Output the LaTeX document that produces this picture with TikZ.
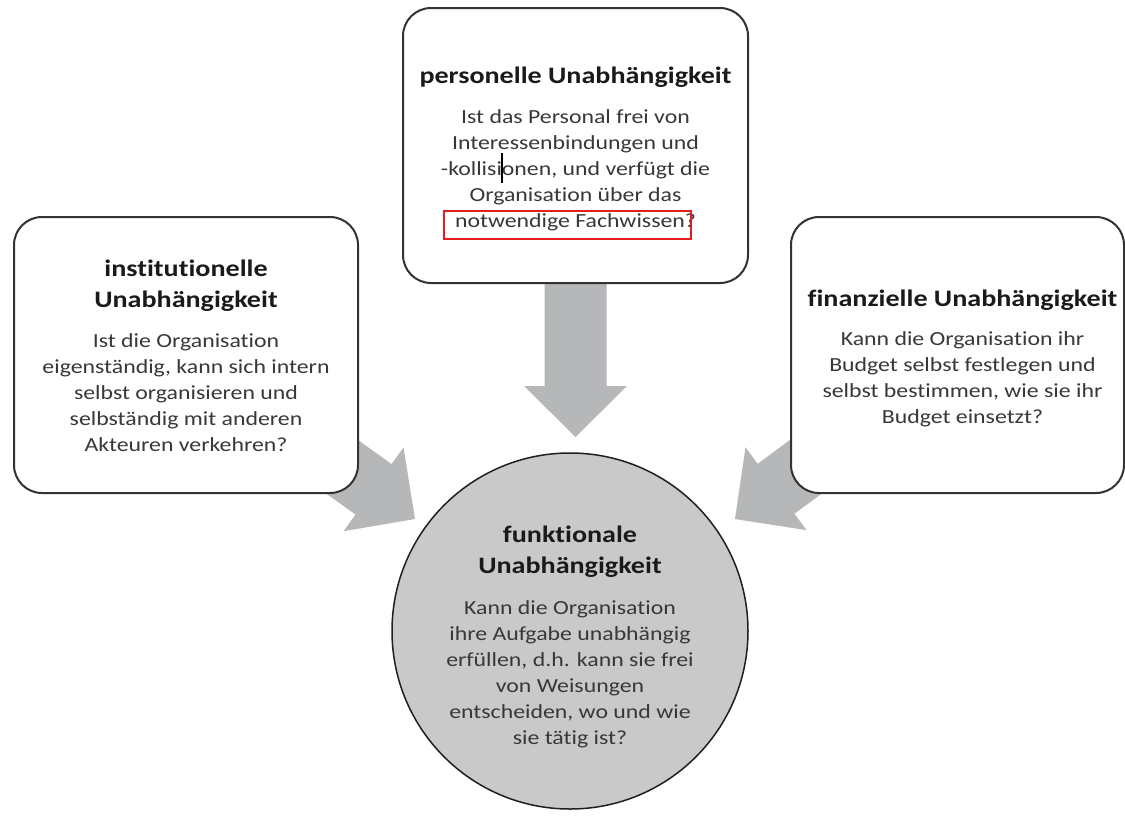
\documentclass[tikz,border=0pt]{standalone}
\usepackage{fontspec}
\setmainfont{Carlito}[FakeStretch=1.19,Ligatures=NoCommon,RawFeature=-liga]
\usetikzlibrary{calc,backgrounds}
\definecolor{boxline}{HTML}{333333}
\definecolor{arrowgray}{HTML}{B6B7B9}
\definecolor{circfill}{HTML}{C9C9C9}
\definecolor{titlecol}{HTML}{1A1A1A}
\definecolor{bodycol}{HTML}{383838}
\definecolor{markred}{HTML}{E41E1E}
\newcommand\ttl[1]{{\color{titlecol}\bfseries\fontsize{23.6}{26}\selectfont #1}}
\newcommand\blockarrow[2]{%
  \coordinate (bm) at ($(#2)!51pt!(#1)$);
  \fill[arrowgray] ($(#1)!31pt!90:(#2)$) -- ($(bm)!31pt!-90:(#1)$) -- ($(bm)!51.5pt!-90:(#1)$) -- (#2)
    -- ($(bm)!51.5pt!90:(#1)$) -- ($(bm)!31pt!90:(#1)$) -- ($(#1)!31pt!-90:(#2)$) -- cycle;}
\tikzset{
  infobox/.style={draw=boxline, line width=2pt, rounded corners=28pt, fill=white, inner sep=0pt},
  centrecircle/.style={circle, draw=black!88, line width=1.5pt, fill=circfill,
    minimum size=356pt, inner sep=0pt},
  boxtext/.style={align=center, inner sep=0pt, font=\fontsize{20}{26}\selectfont, text=bodycol},
}
\begin{document}
\begin{tikzpicture}[x=1pt,y=-1pt]
\useasboundingbox (0,0) rectangle (1125,815);

\node[infobox, minimum width=345pt, minimum height=275pt] (pers) at (575.5,145.5) {};
\node[infobox, minimum width=344pt, minimum height=276pt] (inst) at (186,355) {};
\node[infobox, minimum width=333pt, minimum height=276pt] (fin) at (957.5,355) {};
\node[centrecircle] (funk) at (570,631) {};

\node[boxtext] (perstext) at (575.5,148.5)
  {\ttl{personelle Unabhängigkeit}\\[14pt]
   Ist das Personal frei von\\
   Interessenbindungen und\\
   -kollisionen, und verfügt die\\
   Organisation über das\\
   notwendige Fachwissen?};

\node[boxtext] (insttext) at (186,355.5)
  {\ttl{institutionelle}\\[5pt]
   \ttl{Unabhängigkeit}\\[14pt]
   Ist die Organisation\\
   eigenständig, kann sich intern\\
   selbst organisieren und\\
   selbständig mit anderen\\
   Akteuren verkehren?};

\node[boxtext] (fintext) at (962.5,358)
  {\ttl{finanzielle Unabhängigkeit}\\[13pt]
   Kann die Organisation ihr\\
   Budget selbst festlegen und\\
   selbst bestimmen, wie sie ihr\\
   Budget einsetzt?};

\node[boxtext] (funktext) at (570,637)
  {\ttl{funktionale}\\[5pt]
   \ttl{Unabhängigkeit}\\[15pt]
   Kann die Organisation\\
   ihre Aufgabe unabhängig\\
   erfüllen, d.h. kann sie frei\\
   von Weisungen\\
   entscheiden, wo und wie\\
   sie tätig ist?};

\coordinate (ptip) at (575.5,437);
\coordinate (itip) at (415,519);
\coordinate (ftip) at (735,519);

\begin{pgfonlayer}{background}
  \fill[white] (0,0) rectangle (1125,815);
  \blockarrow{pers.center}{ptip}
  \blockarrow{inst.center}{itip}
  \blockarrow{fin.center}{ftip}
\end{pgfonlayer}

\draw[markred, line width=2pt] (443.5,211) rectangle (691,238.5);
\draw[black, line width=1.2pt] (502,153) -- (502,183);
\end{tikzpicture}
\end{document}
